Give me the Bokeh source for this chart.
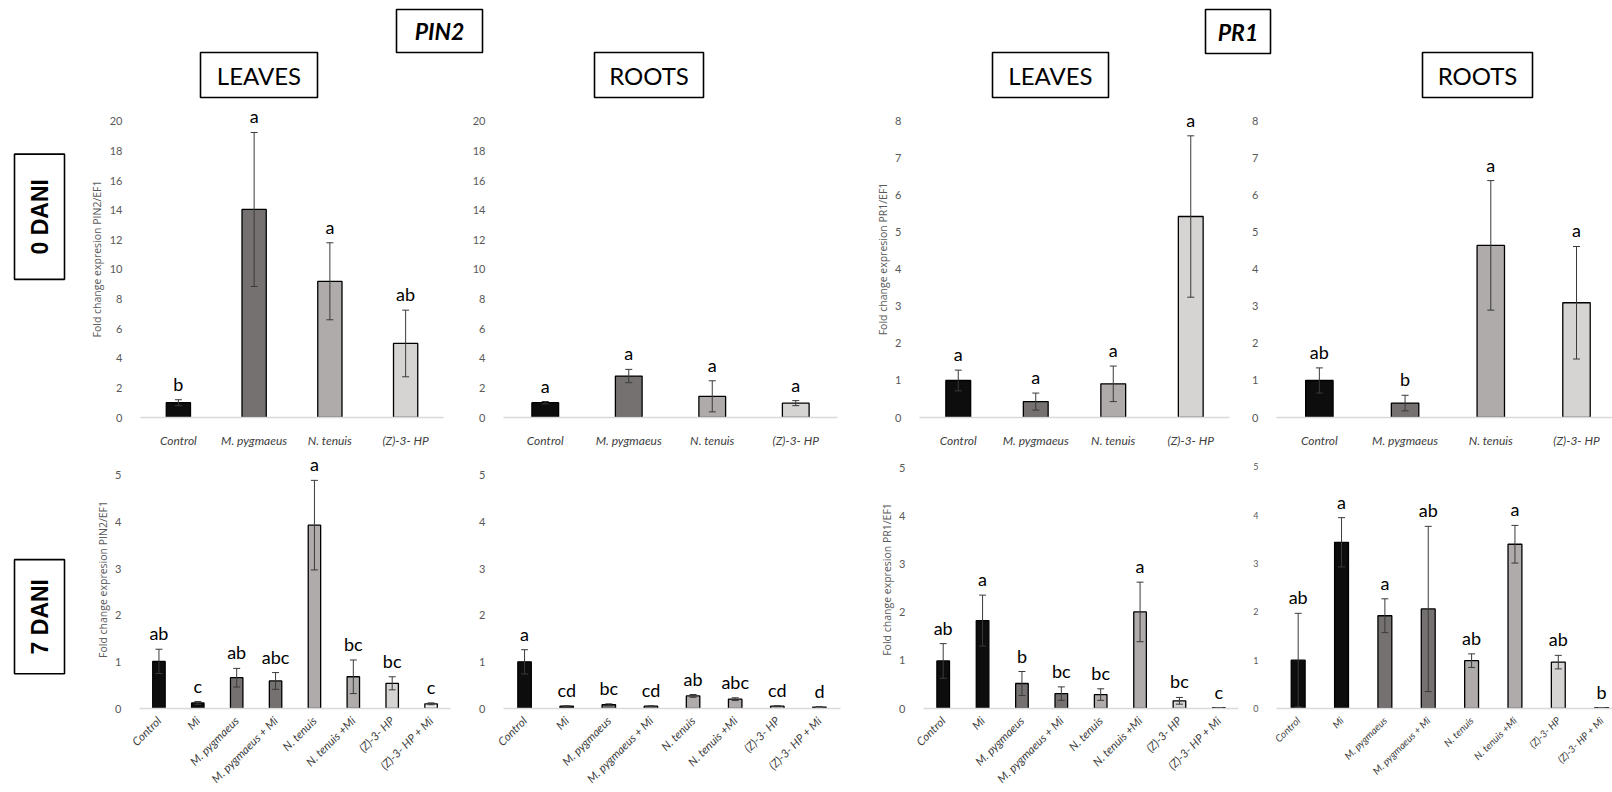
import math
from bokeh.plotting import figure
from bokeh.models import Range1d, FixedTicker, ColumnDataSource, Label, Title
from bokeh.layouts import column, row
from bokeh.embed import file_html
from bokeh.resources import INLINE

# ---- data -------------------------------------------------------------
cats_0dani = ["Control", "M. pygmaeus", "N. tenuis", "(Z)-3- HP"]
cats_7dani = ["Control", "Mi", "M. pygmaeus", "M. pygmaeus + Mi",
              "N. tenuis", "N. tenuis +Mi", "(Z)-3- HP", "(Z)-3- HP + Mi"]

pin2_leaves_0 = [1.0, 14.05, 9.2, 5.0]
pin2_leaves_0_err = [0.2, 5.2, 2.6, 2.25]
pin2_leaves_0_sig = ["b", "a", "a", "ab"]

pin2_roots_0 = [1.0, 2.8, 1.43, 0.97]
pin2_roots_0_err = [0.08, 0.45, 1.05, 0.17]
pin2_roots_0_sig = ["a", "a", "a", "a"]

pr1_leaves_0 = [1.0, 0.43, 0.91, 5.43]
pr1_leaves_0_err = [0.28, 0.23, 0.48, 2.18]
pr1_leaves_0_sig = ["a", "a", "a", "a"]

pr1_roots_0 = [1.0, 0.39, 4.65, 3.1]
pr1_roots_0_err = [0.34, 0.21, 1.75, 1.52]
pr1_roots_0_sig = ["ab", "b", "a", "a"]

pin2_leaves_7 = [1.01, 0.12, 0.66, 0.59, 3.93, 0.68, 0.54, 0.10]
pin2_leaves_7_err = [0.26, 0.03, 0.2, 0.18, 0.96, 0.36, 0.14, 0.02]
pin2_leaves_7_sig = ["ab", "c", "ab", "abc", "a", "bc", "bc", "c"]

pin2_roots_7 = [1.0, 0.05, 0.08, 0.05, 0.27, 0.2, 0.05, 0.03]
pin2_roots_7_err = [0.26, 0.01, 0.02, 0.01, 0.03, 0.03, 0.01, 0.01]
pin2_roots_7_sig = ["a", "cd", "bc", "cd", "ab", "abc", "cd", "d"]

pr1_leaves_7 = [0.99, 1.83, 0.52, 0.31, 0.29, 2.01, 0.16, 0.02]
pr1_leaves_7_err = [0.36, 0.53, 0.25, 0.14, 0.12, 0.62, 0.07, 0.0]
pr1_leaves_7_sig = ["ab", "a", "b", "bc", "bc", "a", "bc", "c"]

pr1_roots_7 = [1.0, 3.44, 1.92, 2.06, 0.99, 3.4, 0.96, 0.02]
pr1_roots_7_err = [0.97, 0.51, 0.35, 1.71, 0.14, 0.39, 0.14, 0.0]
pr1_roots_7_sig = ["ab", "a", "a", "ab", "ab", "a", "ab", "b"]

pin2_ticks_0 = [0, 2, 4, 6, 8, 10, 12, 14, 16, 18, 20]
pr1_ticks_0 = [0, 1, 2, 3, 4, 5, 6, 7, 8]
ticks_7 = [0, 1, 2, 3, 4, 5]

# ---- styling ----------------------------------------------------------
COLORS_0 = ["#0d0d0d", "#767171", "#afabab", "#d6d3d3"]
COLORS_7 = ["#0d0d0d", "#0d0d0d", "#767171", "#767171",
            "#afabab", "#afabab", "#d6d3d3", "#f2f2f2"]
TICK_GREY = "#595959"
LABEL_GREY = "#404040"
FONT = "Lato"

# plot frames run from the top of each row down to the category axis
TOP_ROW = dict(top=0, bottom=31)      # frame 100..419 inside y 100..450
BOT_ROW = dict(top=0, bottom=82)      # frame 450..710 inside y 450..792


def panel(width, height, left, right, vb, cats, means, errs, sig, colors,
          ymax, yticks, x_end, ylabel=None, ylabel_shift=0, rotate=False,
          tick_size="11px", cat_size="12px"):
    n = len(cats)
    xs = list(range(n))
    upper = [m + e for m, e in zip(means, errs)]
    lower = [max(m - e, 0) for m, e in zip(means, errs)]
    src = ColumnDataSource(dict(x=xs, top=means, upper=upper, lower=lower,
                                color=colors))

    p = figure(width=width, height=height, title=None,
               x_range=Range1d(-0.5, x_end), y_range=Range1d(0, ymax),
               output_backend="svg", toolbar_location=None,
               min_border_left=left, min_border_right=right,
               min_border_top=vb["top"], min_border_bottom=vb["bottom"])
    p.outline_line_color = None
    p.grid.visible = False
    p.background_fill_color = "white"
    p.border_fill_color = "white"

    p.vbar(x="x", top="top", width=0.32, bottom=0, source=src,
           fill_color="color", line_color="black", line_width=1.3)
    p.segment(x0="x", y0="lower", x1="x", y1="upper", source=src,
              line_color="#3a3a3a", line_width=1)
    p.scatter(x="x", y="upper", source=src, marker="dash", size=7,
              line_color="#3a3a3a", line_width=1)
    p.scatter(x="x", y="lower", source=src, marker="dash", size=7,
              line_color="#3a3a3a", line_width=1)

    # significance letters sit just above each error bar
    for xi, yi, s in zip(xs, upper, sig):
        p.add_layout(Label(x=xi, y=yi, text=s, text_align="center",
                           text_baseline="bottom", y_offset=5,
                           text_font=FONT, text_font_size="18px",
                           text_color="black"))

    ya = p.yaxis[0]
    ya.ticker = FixedTicker(ticks=yticks)
    ya.axis_line_color = None
    ya.major_tick_line_color = None
    ya.minor_tick_line_color = None
    ya.major_label_text_color = TICK_GREY
    ya.major_label_text_font = FONT
    ya.major_label_text_font_size = tick_size
    ya.major_label_standoff = 12
    if ylabel:
        p.add_layout(Title(text=ylabel, align="center", offset=ylabel_shift,
                           standoff=6, text_font="Open Sans",
                           text_font_size="10.5px", text_font_style="normal",
                           text_color=TICK_GREY), "left")

    xa = p.xaxis[0]
    xa.ticker = FixedTicker(ticks=xs)
    xa.major_label_overrides = {i: c for i, c in enumerate(cats)}
    xa.axis_line_color = "#d9d9d9"
    xa.axis_line_width = 1.5
    xa.major_tick_line_color = None
    xa.minor_tick_line_color = None
    xa.major_label_text_font = FONT
    xa.major_label_text_font_style = "italic"
    xa.major_label_text_font_size = cat_size
    xa.major_label_text_color = LABEL_GREY
    if rotate:
        xa.major_label_orientation = math.pi / 4
        xa.major_label_standoff = 4
    else:
        xa.major_label_standoff = 9
    return p


def canvas(width, y0, y1, top=0, bottom=0):
    """Blank drawing surface in page pixels (y grows downward, stored negated)."""
    p = figure(width=width, height=y1 - y0, title=None,
               x_range=Range1d(0, width),
               y_range=Range1d(-(y1 - bottom), -(y0 + top)),
               output_backend="svg", toolbar_location=None,
               x_axis_type=None, y_axis_type=None, min_border_left=0,
               min_border_right=0, min_border_top=top,
               min_border_bottom=bottom)
    p.outline_line_color = None
    p.grid.visible = False
    return p


def framed_text(p, x0, x1, y0, y1, text, size, font, style="normal",
                angle=0.0):
    p.quad(left=[x0], right=[x1], top=[-y0], bottom=[-y1],
           fill_color="white", line_color="black", line_width=1.6)
    p.add_layout(Label(x=(x0 + x1) / 2, y=-(y0 + y1) / 2, text=text,
                       angle=angle, text_align="center",
                       text_baseline="middle", text_font=font,
                       text_font_size=size, text_font_style=style,
                       text_color="black"))


# ---- header with gene / tissue titles ----------------------------------
header = canvas(1612, 0, 100)
framed_text(header, 396, 482, 9, 52, "PIN2", "23px", FONT, "bold italic")
framed_text(header, 1205, 1270, 9, 53, "PR1", "23px", FONT, "bold italic")
framed_text(header, 200, 317, 52, 97, "LEAVES", "24px", FONT)
framed_text(header, 594, 703, 52, 97, "ROOTS", "24px", FONT)
framed_text(header, 992, 1108, 52, 97, "LEAVES", "24px", FONT)
framed_text(header, 1422, 1532, 52, 97, "ROOTS", "24px", FONT)

# ---- time-point strips -------------------------------------------------
strip0 = canvas(70, 100, 450, **TOP_ROW)
framed_text(strip0, 14, 64, 154, 280, "0 DANI", "23px", "Liberation Sans",
            "bold", math.pi / 2)
strip7 = canvas(70, 450, 792, **BOT_ROW)
framed_text(strip7, 14, 64, 560, 675, "7 DANI", "23px", "Liberation Sans",
            "bold", math.pi / 2)

# ---- 0 DANI panels -----------------------------------------------------
pA = panel(390, 350, 70, 17, TOP_ROW, cats_0dani, pin2_leaves_0,
           pin2_leaves_0_err, pin2_leaves_0_sig, COLORS_0, 21.41, pin2_ticks_0,
           3.5, ylabel="Fold change expresion PIN2/EF1", ylabel_shift=-10)
pB = panel(390, 350, 43, 13, TOP_ROW, cats_0dani, pin2_roots_0,
           pin2_roots_0_err, pin2_roots_0_sig, COLORS_0, 21.41, pin2_ticks_0,
           3.5)
pC = panel(395, 350, 69, 16, TOP_ROW, cats_0dani, pr1_leaves_0,
           pr1_leaves_0_err, pr1_leaves_0_sig, COLORS_0, 8.564, pr1_ticks_0,
           3.5, ylabel="Fold change expresion PR1/EF1", ylabel_shift=-17)
pD = panel(367, 350, 31, 0, TOP_ROW, cats_0dani, pr1_roots_0,
           pr1_roots_0_err, pr1_roots_0_sig, COLORS_0, 8.564, pr1_ticks_0,
           3.42)

# ---- 7 DANI panels -----------------------------------------------------
pE = panel(395, 342, 69, 15, BOT_ROW, cats_7dani, pin2_leaves_7,
           pin2_leaves_7_err, pin2_leaves_7_sig, COLORS_7, 5.53, ticks_7, 7.5,
           ylabel="Fold change expresion PIN2/EF1", ylabel_shift=10,
           rotate=True, cat_size="11.5px")
pF = panel(390, 342, 38, 15, BOT_ROW, cats_7dani, pin2_roots_7,
           pin2_roots_7_err, pin2_roots_7_sig, COLORS_7, 5.53, ticks_7, 7.5,
           rotate=True, cat_size="11.5px")
pG = panel(395, 342, 68, 12, BOT_ROW, cats_7dani, pr1_leaves_7,
           pr1_leaves_7_err, pr1_leaves_7_sig, COLORS_7, 5.37, ticks_7, 7.5,
           ylabel="Fold change expresion PR1/EF1", ylabel_shift=-14,
           rotate=True, cat_size="11.5px")
pH = panel(362, 342, 24, 0, BOT_ROW, cats_7dani, pr1_roots_7,
           pr1_roots_7_err, pr1_roots_7_sig, COLORS_7, 5.34, ticks_7, 7.25,
           rotate=True, tick_size="9px", cat_size="10px")

layout = column(header,
                row(strip0, pA, pB, pC, pD, spacing=0),
                row(strip7, pE, pF, pG, pH, spacing=0),
                spacing=0)

open("out.html", "w").write(file_html(layout, INLINE))
